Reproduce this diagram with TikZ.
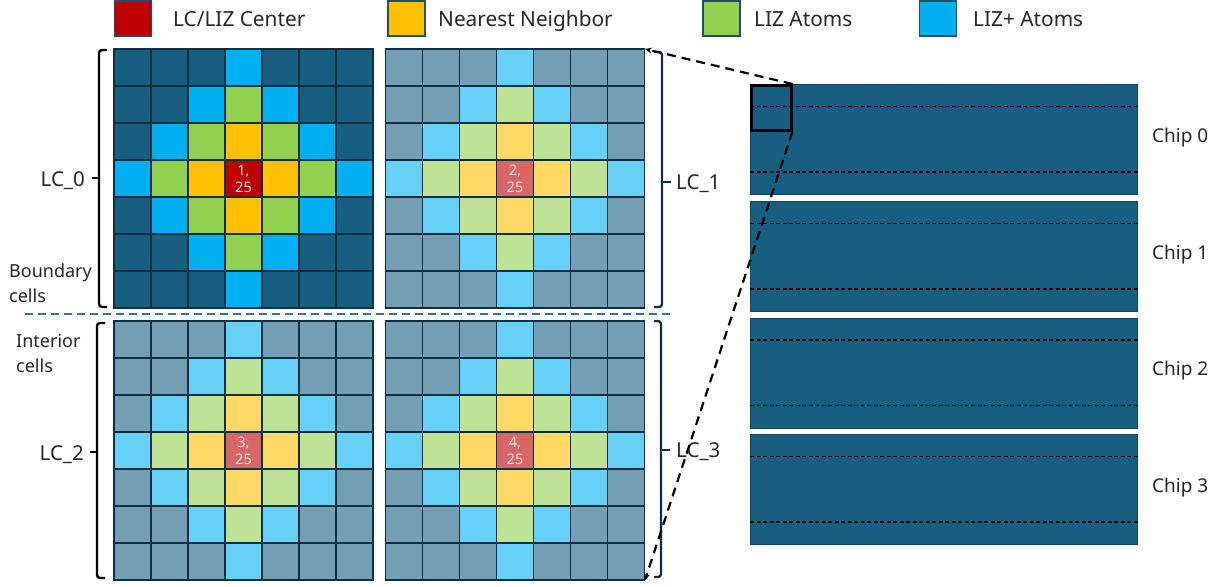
\documentclass[tikz,border=0pt]{standalone}
\usepackage{fontspec}
\setmainfont{Noto Sans}
\usetikzlibrary{arrows.meta}

% palette
\definecolor{cdark}{RGB}{23,94,129}
\definecolor{cblu}{RGB}{0,176,240}
\definecolor{cgrn}{RGB}{146,208,80}
\definecolor{cyel}{RGB}{255,192,0}
\definecolor{cred}{RGB}{192,0,0}
\definecolor{cline}{RGB}{14,46,66}
\definecolor{clegedge}{RGB}{31,78,106}
\definecolor{ctxt}{RGB}{38,38,38}
\definecolor{csep}{RGB}{52,118,158}
\definecolor{cbrk}{RGB}{16,45,64}
\definecolor{cchipedge}{RGB}{16,70,98}
\definecolor{cnum}{RGB}{245,225,225}

\begin{document}
\begin{tikzpicture}[x=1pt,y=-1pt,
  legbox/.style={draw=clegedge, line width=1.5, minimum width=37, minimum height=35, inner sep=0},
  legtxt/.style={anchor=base west, inner sep=0, text=ctxt, font=\fontsize{20.8}{24}\selectfont},
  lclabel/.style={inner sep=0, text=ctxt, font=\fontsize{20.5}{24}\selectfont},
  side/.style={anchor=west, inner sep=0, text=ctxt, align=left, font=\fontsize{18}{25}\selectfont},
  chiplabel/.style={anchor=base west, inner sep=0, text=ctxt, font=\fontsize{19}{22}\selectfont},
  celltext/.style={inner sep=0, text=cnum, align=center, font=\fontsize{14.5}{17}\selectfont},
  gridbox/.style={inner sep=0, minimum width=259, minimum height=259, anchor=north west},
  chip/.style={draw=cchipedge, fill=cdark, line width=1, minimum width=387, minimum height=110, anchor=north west, inner sep=0},
  chipdash/.style={black, line width=1.3, dash pattern=on 4 off 2.5},
  zoomlink/.style={black, line width=2.2, dash pattern=on 9 off 6, -{Stealth[length=7,width=6]}},
  bracket/.style={line width=2.4, rounded corners=3},
  separator/.style={csep, line width=2, dash pattern=on 8 off 5}]

\useasboundingbox (0,0) rectangle (1222,586);

% legend
\node[legbox, fill=cred] (kred) at (133,18.5) {};
\node[legtxt] (tred) at (173,27) {LC/LIZ Center};
\node[legbox, fill=cyel] (kyel) at (406.5,18.5) {};
\node[legtxt] (tyel) at (438,27) {Nearest Neighbor};
\node[legbox, fill=cgrn] (kgrn) at (721.5,18.5) {};
\node[legtxt] (tgrn) at (754,27) {LIZ Atoms};
\node[legbox, fill=cblu] (kblu) at (938,18.5) {};
\node[legtxt] (tblu) at (973,27) {LIZ+ Atoms};

% the four 7x7 cell blocks, coloured by distance from the centre cell
\foreach \gx/\gy/\pct/\num in {114/49/100/1, 385.5/49/60/2, 114/321/60/3, 385.5/321/60/4} {
  \node[gridbox] (g\num) at (\gx,\gy) {};
  \foreach \r in {0,...,6} {
    \foreach \c in {0,...,6} {
      \pgfmathtruncatemacro\dd{abs(\r-3)+abs(\c-3)}
      \ifcase\dd \def\cellcol{cred}\or \def\cellcol{cyel}\or \def\cellcol{cgrn}\or \def\cellcol{cblu}\else \def\cellcol{cdark}\fi
      \filldraw[fill=\cellcol!\pct!white, draw=cline, line width=1.8] (\gx+\c*37, \gy+\r*37) rectangle ++(37,37);
    }
  }
  \node[celltext] (n\num) at (\gx+129.5, \gy+129.5) {\num,\\25};
}

% brackets and block labels
\draw[bracket, black] (107,50) -- (99,50) -- (99,307) -- (107,307);
\draw[line width=2.4, black] (99,178) -- (92,178);
\node[lclabel, anchor=base east] (lc0) at (85,186) {LC\_0};

\draw[bracket, black] (105,323) -- (97,323) -- (97,578) -- (105,578);
\draw[line width=2.4, black] (97,452) -- (90,452);
\node[lclabel, anchor=base east] (lc2) at (84,460) {LC\_2};

\draw[bracket, cbrk] (654,52) -- (662,52) -- (662,307) -- (654,307);
\draw[line width=2.4, cbrk] (662,182) -- (671,182);
\node[lclabel, anchor=base west] (lc1) at (676,189) {LC\_1};

\draw[bracket, cbrk] (654,321) -- (661,321) -- (661,577) -- (654,577);
\draw[line width=2.4, cbrk] (661,450) -- (670,450);
\node[lclabel, anchor=base west] (lc3) at (676,457) {LC\_3};

\node[side] (bnd) at (9,283) {Boundary\\cells};
\node[side] (intr) at (16,353) {Interior\\cells};

% boundary / interior separator
\draw[separator] (25,314) -- (674,314);

% chips
\foreach \k/\top in {0/84, 1/201, 2/317.5, 3/434} {
  \node[chip] (chip\k) at (750,\top) {};
  \draw[chipdash] ([yshift=-22.5pt]chip\k.north west) -- ([yshift=-22.5pt]chip\k.north east);
  \draw[chipdash] ([yshift=-88pt]chip\k.north west) -- ([yshift=-88pt]chip\k.north east);
  \node[chiplabel] (lab\k) at (1152,\top+58) {Chip \k};
}

% zoomed window on chip 0
\node[draw=black, line width=2.5, minimum width=40, minimum height=45, anchor=north west, inner sep=0] (zsq) at (750,84) {};

\draw[zoomlink] (zsq.north east) -- (g2.north east);
\draw[zoomlink] (zsq.south east) -- (g4.south east);
\end{tikzpicture}
\end{document}
